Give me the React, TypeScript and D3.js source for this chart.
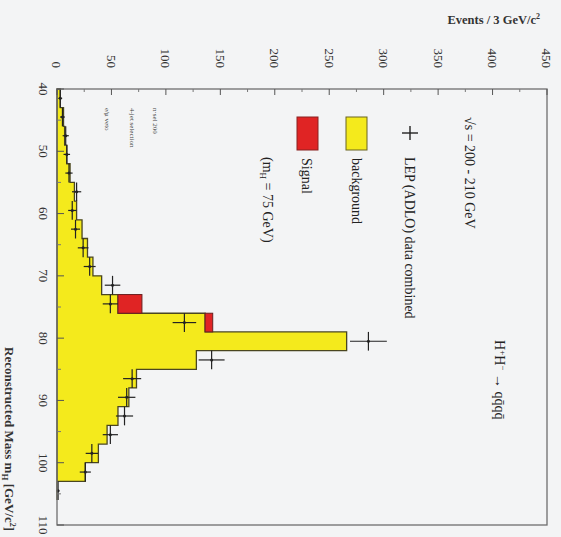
import React from "react";
import * as d3 from "d3";

// bins of 3 GeV starting at 40 GeV
const binEdges = [40, 43, 46, 49, 52, 55, 58, 61, 64, 67, 70, 73, 76, 79, 82, 85, 88, 91, 94, 97, 100, 103, 106];
const background = [3, 6, 7, 9, 12, 16, 18, 23, 28, 33, 41, 56, 136, 266, 128, 73, 66, 56, 46, 38, 26, 0];
const signal = [0, 0, 0, 0, 0, 0, 0, 0, 0, 0, 0, 22, 7, 0, 0, 0, 0, 0, 0, 0, 0, 0];
const dataCounts = [3, 5, 8, 9, 11, 18, 14, 17, 24, 30, 51, 49, 117, 286, 142, 69, 64, 62, 49, 32, 26, 1];

const eventTicks = [0, 50, 100, 150, 200, 250, 300, 350, 400, 450];
const massTicks = [40, 50, 60, 70, 80, 90, 100, 110];

const W = 561;
const H = 537;
const serif = "'Liberation Serif', 'DejaVu Serif', serif";

const App = () => {
  // the plot is drawn turned by 90 degrees: mass runs down, events run right
  const mass = d3.scaleLinear().domain([40, 110]).range([89, 525]);
  const events = d3.scaleLinear().domain([0, 450]).range([57, 547]);

  const bins = background.map((b, i) => ({
    lo: binEdges[i],
    hi: binEdges[i + 1],
    bg: b,
    sig: signal[i],
    obs: dataCounts[i],
  }));

  // stepped outline of the background
  let bgPath = `M${events(0)},${mass(40)}`;
  bins.forEach((d) => {
    bgPath += `L${events(d.bg)},${mass(d.lo)}L${events(d.bg)},${mass(d.hi)}`;
  });
  bgPath += `L${events(0)},${mass(bins[bins.length - 1].hi)}Z`;

  const minorEvents = d3.range(25, 450, 50);
  const minorMass = d3.range(45, 110, 10);

  const rot = (x: number, y: number) => `translate(${x},${y}) rotate(90)`;

  return (
    <svg width={W} height={H} style={{ position: "absolute", left: 0, top: 0 }} fontFamily={serif}>
      <rect x={0} y={0} width={W} height={H} fill="#f3f4f5" />

      {/* background histogram */}
      <path d={bgPath} fill="#f4ea1c" stroke="#4a4620" strokeWidth={1.3} />

      {/* signal stacked on background */}
      {bins.filter((d) => d.sig > 0).map((d, i) => (
        <rect key={"s" + i}
          x={events(d.bg)} y={mass(d.lo)}
          width={events(d.bg + d.sig) - events(d.bg)}
          height={mass(d.hi) - mass(d.lo)}
          fill="#e02424" stroke="#6a2020" strokeWidth={1} />
      ))}

      {/* data points */}
      {bins.map((d, i) => {
        const cy = mass((d.lo + d.hi) / 2);
        const cx = events(d.obs);
        const err = Math.sqrt(d.obs);
        return (
          <g key={"d" + i} stroke="#222" strokeWidth={1.2}>
            <line x1={events(Math.max(0, d.obs - err))} x2={events(d.obs + err)} y1={cy} y2={cy} />
            <line x1={cx} x2={cx} y1={mass(d.lo)} y2={mass(d.hi)} />
            <circle cx={cx} cy={cy} r={1.5} fill="#222" stroke="none" />
          </g>
        );
      })}

      {/* frame */}
      <rect x={events(0)} y={mass(40)} width={events(450) - events(0)} height={mass(110) - mass(40)}
        fill="none" stroke="#6e6e6e" strokeWidth={1.3} />

      {/* events axis (top) */}
      {eventTicks.map((t) => (
        <g key={"et" + t}>
          <line x1={events(t)} x2={events(t)} y1={mass(40)} y2={mass(40) + 6} stroke="#555" />
          <text transform={rot(events(t), 68)} textAnchor="end" dy="0.35em" fontSize={13} fill="#333">{t}</text>
        </g>
      ))}
      {minorEvents.map((t) => (
        <line key={"me" + t} x1={events(t)} x2={events(t)} y1={mass(40)} y2={mass(40) + 3} stroke="#777" />
      ))}
      <text x={540} y={24} textAnchor="end" fontSize={12.5} fontWeight="bold" fill="#333">
        Events / 3 GeV/c<tspan dy={-5} fontSize={8}>2</tspan>
      </text>

      {/* mass axis (left) */}
      {massTicks.map((t) => (
        <g key={"mt" + t}>
          <line x1={events(0)} x2={events(0) + 7} y1={mass(t)} y2={mass(t)} stroke="#555" />
          <text transform={rot(44, mass(t))} textAnchor="middle" dy="0.35em" fontSize={13} fill="#333">{t}</text>
        </g>
      ))}
      {minorMass.map((t) => (
        <line key={"mm" + t} x1={events(0)} x2={events(0) + 4} y1={mass(t)} y2={mass(t)} stroke="#777" />
      ))}
      <text transform={rot(10, 531)} textAnchor="end" dy="0.35em" fontSize={13} fontWeight="bold" fill="#333">
        Reconstructed Mass m<tspan dy={3} fontSize={9}>H</tspan><tspan dy={-3}> [GeV/c</tspan><tspan dy={-5} fontSize={8}>2</tspan><tspan dy={5}>]</tspan>
      </text>

      {/* annotations */}
      <text transform={rot(500, 340)} dy="0.35em" fontSize={14} fill="#222">
        H<tspan dy={-5} fontSize={9}>+</tspan><tspan dy={5}>H</tspan><tspan dy={-5} fontSize={9}>−</tspan><tspan dy={5}> → qq̄qq̄</tspan>
      </text>
      <text transform={rot(470, 117)} dy="0.35em" fontSize={14} fill="#222">√s = 200 - 210 GeV</text>

      <g stroke="#222" strokeWidth={1.4}>
        <line x1={402} x2={418} y1={133} y2={133} />
        <line x1={410} x2={410} y1={126} y2={140} />
      </g>
      <text transform={rot(410, 157)} dy="0.35em" fontSize={14} fill="#222">LEP (ADLO) data combined</text>

      <rect x={346} y={117} width={21} height={33} fill="#f4ea1c" stroke="#6a6420" />
      <text transform={rot(357, 158)} dy="0.35em" fontSize={14} fill="#222">background</text>

      <rect x={297} y={117} width={21} height={33} fill="#e02424" stroke="#8a2020" />
      <text transform={rot(307, 158)} dy="0.35em" fontSize={14} fill="#222">Signal</text>

      <text transform={rot(268, 157)} dy="0.35em" fontSize={14} fill="#222">
        (m<tspan dy={3} fontSize={9}>H</tspan><tspan dy={-3}> = 75 GeV)</tspan>
      </text>

      <text transform={rot(155, 108)} dy="0.35em" fontSize={7} fill="#444">n·sel  200</text>
      <text transform={rot(132, 108)} dy="0.35em" fontSize={7} fill="#444">4-jet  selection</text>
      <text transform={rot(107, 108)} dy="0.35em" fontSize={7} fill="#444">e/μ  veto</text>
    </svg>
  );
};

export default App;
